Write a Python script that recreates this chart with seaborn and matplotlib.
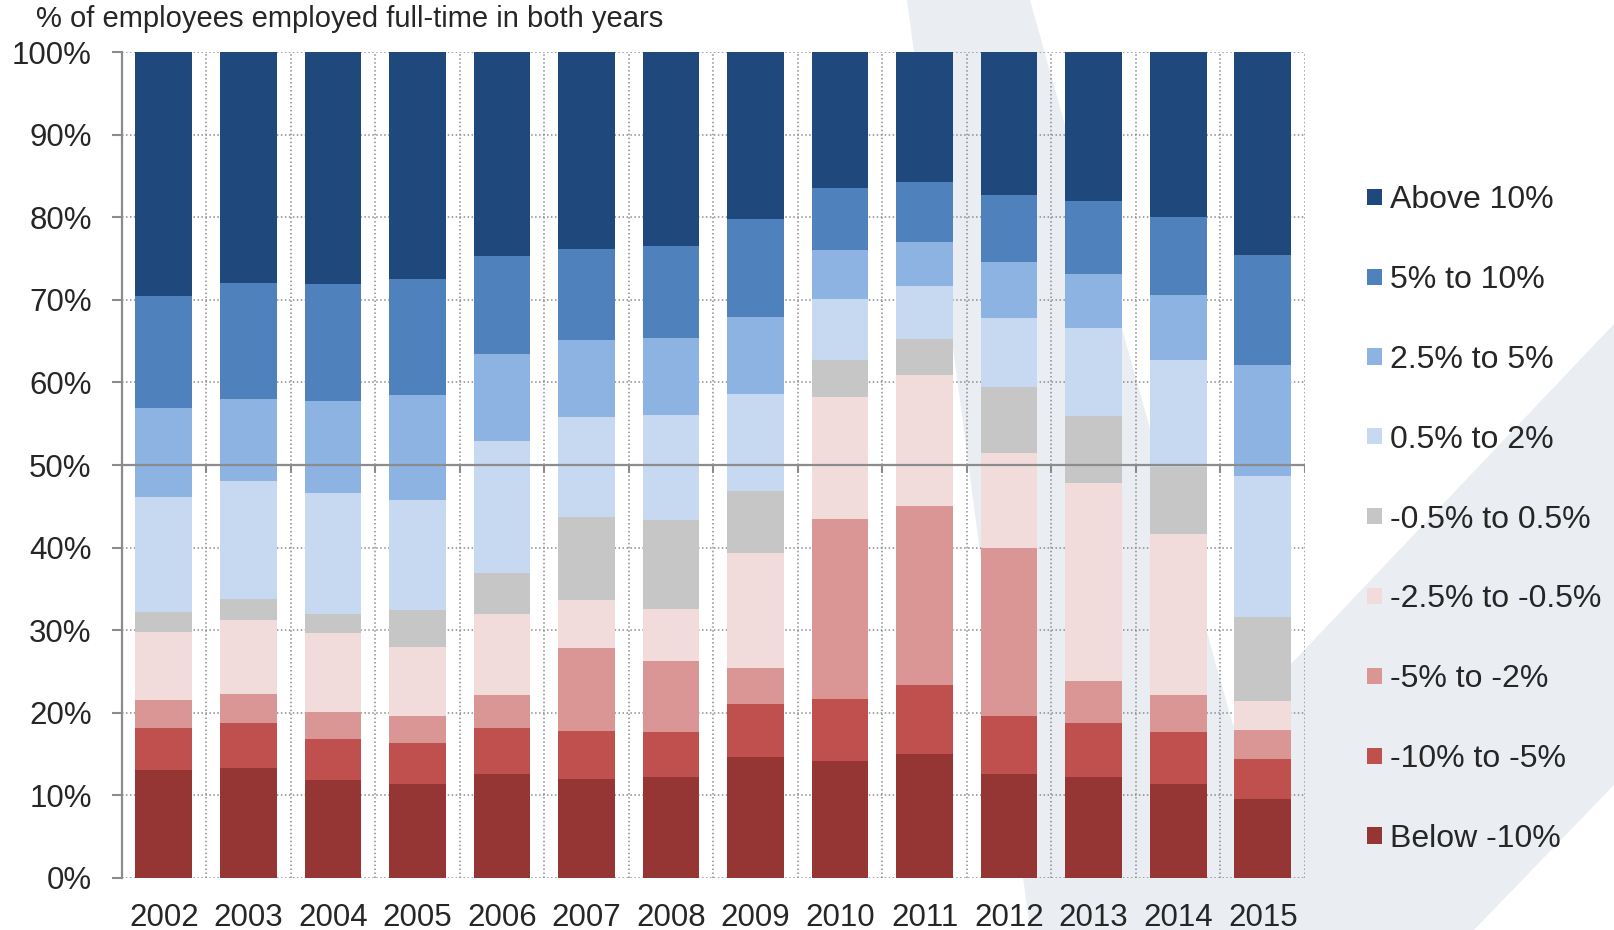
import numpy as np
import pandas as pd
import matplotlib
matplotlib.use("Agg")
import matplotlib.pyplot as plt
from matplotlib.patches import Polygon
from matplotlib.ticker import FuncFormatter
import seaborn as sns

# ---------------- data ----------------
years = ["2002", "2003", "2004", "2005", "2006", "2007", "2008",
         "2009", "2010", "2011", "2012", "2013", "2014", "2015"]

below_m10 = [13.1, 13.3, 11.8, 11.4, 12.6, 12.0, 12.2, 14.6, 14.1, 15.0, 12.6, 12.2, 11.3, 9.5]
m10_to_m5 = [5.0, 5.4, 5.0, 4.9, 5.5, 5.8, 5.5, 6.4, 7.6, 8.4, 7.0, 6.6, 6.4, 4.9]
m5_to_m2 = [3.4, 3.6, 3.3, 3.3, 4.0, 10.0, 8.6, 4.4, 21.8, 21.6, 20.3, 5.0, 4.4, 3.5]
m25_to_m05 = [8.3, 8.9, 9.6, 8.3, 9.8, 5.9, 6.3, 13.9, 14.7, 15.9, 11.6, 24.0, 19.5, 3.5]
m05_to_05 = [2.4, 2.6, 2.2, 4.5, 5.0, 10.0, 10.7, 7.6, 4.5, 4.4, 7.9, 8.1, 8.2, 10.2]
p05_to_2 = [13.9, 14.3, 14.7, 13.3, 16.0, 12.1, 12.8, 11.7, 7.4, 6.4, 8.4, 10.7, 12.9, 17.1]
p25_to_5 = [10.8, 9.9, 11.1, 12.8, 10.6, 9.3, 9.3, 9.3, 5.9, 5.3, 6.8, 6.6, 7.9, 13.4]
p5_to_10 = [13.6, 14.1, 14.2, 14.0, 11.8, 11.1, 11.1, 11.9, 7.6, 7.3, 8.1, 8.8, 9.4, 13.3]
above_10 = [29.5, 27.9, 28.1, 27.5, 24.7, 23.8, 23.5, 20.2, 16.4, 15.7, 17.3, 18.0, 20.0, 24.6]

# bottom -> top
series_labels = ["Below -10%", "-10% to -5%", "-5% to -2%", "-2.5% to -0.5%",
                 "-0.5% to 0.5%", "0.5% to 2%", "2.5% to 5%", "5% to 10%", "Above 10%"]
series_values = [below_m10, m10_to_m5, m5_to_m2, m25_to_m05, m05_to_05,
                 p05_to_2, p25_to_5, p5_to_10, above_10]
series_colors = ["#963634", "#c0504d", "#da9694", "#f2dcdb", "#c6c6c6",
                 "#c6d9f1", "#8db3e2", "#4f81bd", "#1f497d"]

y_ticks = list(range(0, 101, 10))
title_text = "% of employees employed full-time in both years"

# ---------------- style ----------------
sns.set_style("white")
plt.rcParams["font.family"] = ["Liberation Sans", "DejaVu Sans"]

fig = plt.figure(figsize=(16.14, 9.30), dpi=100)
W, H = 1614.0, 930.0

# faint watermark in the background
def px(pts):
    return [(x / W, 1 - y / H) for x, y in pts]

wm = Polygon(px([(907, 0), (1030, 0), (1233, 725), (1614, 324), (1614, 785),
                 (1474, 930), (1030, 930)]),
             closed=True, transform=fig.transFigure, facecolor="#eaeef3",
             edgecolor="none", zorder=-5)
fig.patches.append(wm)

ax = fig.add_axes([0.07528, 0.05624, 0.73327, 0.88752])
ax.patch.set_alpha(0)

df = pd.DataFrame({lab: vals for lab, vals in zip(series_labels, series_values)})
df["year"] = years
cum = df[series_labels].cumsum(axis=1)

# draw from the top layer down so each cumulative bar overlays the previous
for lab, col in zip(series_labels[::-1], series_colors[::-1]):
    sns.barplot(x=df["year"], y=cum[lab], color=col, saturation=1, width=0.67,
                errorbar=None, ax=ax, label=lab, linewidth=0, zorder=2)

leg = ax.get_legend()
if leg is not None:
    leg.remove()

ax.set_xlim(-0.5, len(years) - 0.5)
ax.set_ylim(0, 100)
ax.set_xlabel("")
ax.set_ylabel("")

ax.set_yticks(y_ticks)
ax.yaxis.set_major_formatter(FuncFormatter(lambda v, p: f"{int(v)}%"))
ax.set_xticks(np.arange(-0.5, len(years), 1.0), minor=True)

grid_kw = dict(color="#8c8c8c", linestyle=(0, (1, 1.6)), linewidth=1.1)
ax.set_axisbelow(True)
ax.yaxis.grid(True, which="major", **grid_kw)
ax.xaxis.grid(False, which="major")
ax.xaxis.grid(True, which="minor", **grid_kw)

for s in ["top", "right", "bottom"]:
    ax.spines[s].set_visible(False)
ax.spines["left"].set_color("#8c8c8c")
ax.spines["left"].set_linewidth(1.6)
ax.spines["left"].set_zorder(6)

ax.tick_params(axis="y", which="major", length=7.5, width=1.5, color="#8c8c8c",
               labelsize=22.5, pad=14, direction="out", left=True)
ax.tick_params(axis="x", which="both", length=0, labelsize=22.5, pad=18)

# 50% axis line with category boundary marks
ax.axhline(50, color="#8c8c8c", linewidth=1.6, zorder=5)
ax.vlines(np.arange(-0.5, len(years), 1.0), 49.0, 50.0, color="#8c8c8c",
          linewidth=1.5, zorder=5)

fig.text(0.0223, 0.980, title_text, fontsize=21, va="center", ha="left")

handles, labels = ax.get_legend_handles_labels()
fig.legend(handles, labels, loc="upper left", bbox_to_anchor=(0.847, 0.8008),
           frameon=False, fontsize=23, labelspacing=1.56, handlelength=0.47,
           handleheight=0.4, handletextpad=0.25, borderpad=0, borderaxespad=0)

fig.savefig("out.png", dpi=100)
